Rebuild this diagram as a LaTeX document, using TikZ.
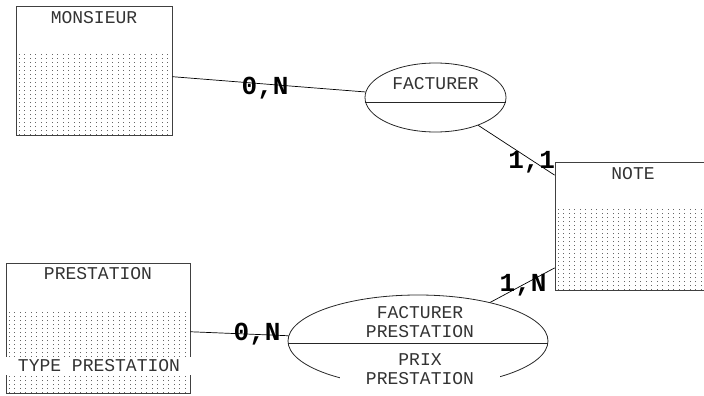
\documentclass[tikz,border=0pt]{standalone}
\usepackage{fontspec}
\newfontfamily\erfont{Liberation Mono}
\usetikzlibrary{shapes.geometric,positioning}

\begin{document}
\begin{tikzpicture}[
    x=1pt, y=-1pt,
    font=\erfont\fontsize{18}{19}\selectfont,
    entity/.style={draw=black!75, line width=0.8pt, minimum height=129pt, inner sep=0pt,
      path picture={\foreach \k in {0,...,34}
        \draw[black!60, line width=1pt, dash pattern=on 1pt off 3pt]
          ([xshift=3pt+\k*5.5pt]path picture bounding box.south west) -- ++(0,81pt);}},
    title/.style={text=black!80},
    assoc/.style={draw=black!85, ellipse, line width=0.8pt, inner sep=0pt},
    card/.style={font=\erfont\bfseries\fontsize{26}{28}\selectfont, inner sep=0pt},
    link/.style={draw, line width=0.7pt},
    band/.style={title, fill=white, minimum width=190pt, minimum height=18pt, inner sep=0pt}
  ]
    \useasboundingbox (0,0) rectangle (704,396);
    \clip (0,0) rectangle (704,396);

    % entities
    \node[entity, minimum width=156pt] (monsieur) at (94,70.5) {};
    \node[title, below=2pt of monsieur.north] (monsieur-t) {MONSIEUR};
    \node[entity, minimum width=156pt, minimum height=128pt] (note) at (633,226) {};
    \node[title, below=2pt of note.north] (note-t) {NOTE};
    \node[entity, minimum width=184pt, minimum height=130pt] (prestation) at (98,328) {};
    \node[title, below=1pt of prestation.north] (prestation-t) {PRESTATION};
    \node[band] (type) at (99,366) {TYPE PRESTATION};

    % associations
    \node[assoc, minimum width=141pt, minimum height=69pt] (facturer) at (435.5,97.5) {};
    \node[title, below=11pt of facturer.north] (facturer-t) {FACTURER};
    \draw[black!85, line width=0.8pt] ([yshift=-4.5pt]facturer.west) -- ([yshift=-4.5pt]facturer.east);

    \node[assoc, minimum width=260pt, minimum height=92pt] (factpres) at (418,341) {};
    \node[title, align=center] (factpres-t) at (420,322.5) {FACTURER\\PRESTATION};
    \draw[black!85, line width=0.8pt] ([yshift=-2pt]factpres.west) -- ([yshift=-2pt]factpres.east);
    \node[title, align=center, fill=white, inner xsep=26pt, inner ysep=5pt] (prix) at (420,369) {PRIX\\PRESTATION};

    % links with cardinalities
    \draw[link] (monsieur) -- node[card, pos=.48, yshift=-4pt] {0,N} (facturer);
    \draw[link] (facturer) -- node[card, pos=.70, yshift=-2pt] {1,1} (note);
    \draw[link] (note) -- node[card, pos=.49] {1,N} (factpres);
    \draw[link] (prestation) -- node[card, pos=.68] {0,N} (factpres);
\end{tikzpicture}
\end{document}
